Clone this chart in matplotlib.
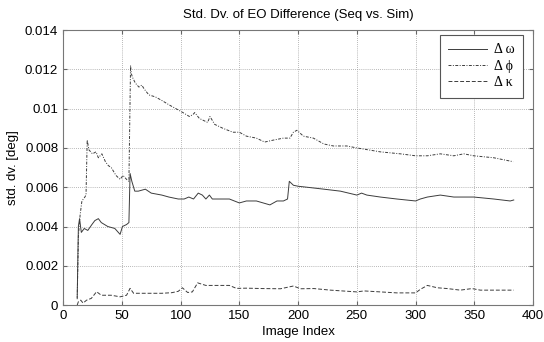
import numpy as np
import matplotlib.pyplot as plt

# Delta omega (solid)
omega_x = [12, 13, 14, 15.5, 18, 21, 24.5, 27, 30, 32.5, 38, 44, 48.5, 50.5, 54, 56, 57, 58.5,
           61, 64, 70, 75, 84, 90, 98, 103, 107, 111, 115, 118.5, 121.5, 124.5, 127, 136, 141.5,
           150, 156, 164.5, 176, 182, 187.5, 191, 192.5, 196, 200, 207.5, 222, 236, 250, 254,
           258.5, 270, 284, 300, 304, 310, 321, 332.5, 349.5, 366.5, 380.5, 383.5]
omega_y = [0.0004, 0.0040, 0.0044, 0.0037, 0.0039, 0.0038, 0.0041, 0.0043, 0.0044, 0.0042,
           0.0040, 0.0039, 0.0036, 0.0040, 0.0041, 0.0042, 0.0067, 0.0063, 0.0058, 0.0058,
           0.0059, 0.0057, 0.0056, 0.0055, 0.0054, 0.0054, 0.0055, 0.0054, 0.0057, 0.0056,
           0.0054, 0.0056, 0.0054, 0.0054, 0.0054, 0.0052, 0.0053, 0.0053, 0.0051, 0.0053,
           0.0053, 0.0054, 0.0063, 0.0061, 0.00605, 0.0060, 0.0059, 0.0058, 0.0056, 0.0057,
           0.0056, 0.0055, 0.0054, 0.0053, 0.0054, 0.0055, 0.0056, 0.0055, 0.0055, 0.0054,
           0.0053, 0.00535]

# Delta phi (dash-dot)
phi_x = [12, 13, 14.5, 16, 18.5, 19.5, 20.5, 22, 25, 28, 30, 33, 36, 38.5, 41, 45, 48.5, 51,
         54, 56, 57.4, 58, 59, 61.5, 64.5, 67, 69, 73, 78.5, 84.5, 90, 96, 102, 107.5, 110.5,
         112, 116, 123, 125, 129, 136, 144.5, 150, 156, 164.5, 171.5, 179, 187.5, 193, 196,
         199, 204.5, 213, 222, 230, 241.5, 250, 270, 287, 300, 310, 321, 332.5, 341, 349.5,
         366.5, 383]
phi_y = [0.0003, 0.0035, 0.0046, 0.0053, 0.0055, 0.0056, 0.0084, 0.0079, 0.0077, 0.0078,
         0.0075, 0.0077, 0.0073, 0.0071, 0.0070, 0.0066, 0.0064, 0.0066, 0.0064, 0.0063,
         0.0122, 0.0118, 0.0116, 0.0113, 0.0111, 0.0112, 0.0110, 0.0107, 0.0106, 0.0104,
         0.0102, 0.0100, 0.0098, 0.0096, 0.0097, 0.0098, 0.0095, 0.0093, 0.0096, 0.0092,
         0.0090, 0.0088, 0.0088, 0.0086, 0.0085, 0.0083, 0.0084, 0.0085, 0.0085, 0.0088,
         0.0089, 0.0086, 0.0085, 0.0082, 0.0081, 0.0081, 0.0080, 0.0078, 0.0077, 0.0076,
         0.0076, 0.0077, 0.0076, 0.0077, 0.0076, 0.0075, 0.0073]

# Delta kappa (dashed)
kappa_x = [12, 13, 15, 17, 20, 24, 28.5, 32.5, 41, 48.5, 54, 57, 60, 70, 84, 92.5, 98, 101.5,
           106, 110, 114.5, 121.5, 130, 141.5, 147.5, 156, 170, 185, 196, 202, 213.5, 227.5,
           250, 256, 270, 284, 300, 304, 310, 318.5, 327, 338, 348, 355, 369, 383.5]
kappa_y = [0.0000, 0.00017, 0.00025, 0.0001, 0.00025, 0.00034, 0.00068, 0.0005, 0.0005,
           0.00042, 0.0005, 0.00085, 0.0006, 0.0006, 0.0006, 0.00063, 0.0007, 0.00088,
           0.00064, 0.00067, 0.00113, 0.0010, 0.0010, 0.0010, 0.00085, 0.00086, 0.00084,
           0.00083, 0.00097, 0.00083, 0.00084, 0.00076, 0.00067, 0.00072, 0.00067, 0.00062,
           0.00062, 0.0008, 0.0010, 0.00088, 0.00084, 0.00076, 0.00084, 0.00076, 0.00076,
           0.00076]

x_ticks = [0, 50, 100, 150, 200, 250, 300, 350, 400]
y_ticks = [0, 0.002, 0.004, 0.006, 0.008, 0.01, 0.012, 0.014]
y_tick_labels = ['0', '0.002', '0.004', '0.006', '0.008', '0.01', '0.012', '0.014']
legend_labels = ['Δ ω', 'Δ ϕ', 'Δ κ']

plt.rcParams['font.family'] = ['Liberation Sans', 'DejaVu Sans']

fig = plt.figure(figsize=(5.44, 3.42), dpi=100)
ax = fig.add_axes([0.116, 0.108, 0.864, 0.804])

line_color = '#3c3c3c'
ax.plot(omega_x, omega_y, '-', color=line_color, lw=0.7, label=legend_labels[0])
ax.plot(phi_x, phi_y, color=line_color, lw=0.7, linestyle=(0, (3, 1.5, 1, 1.5)),
        label=legend_labels[1])
ax.plot(kappa_x, kappa_y, color=line_color, lw=0.7, linestyle=(0, (4, 2)),
        label=legend_labels[2])

ax.set_xlim(0, 400)
ax.set_ylim(0, 0.014)
ax.set_xticks(x_ticks)
ax.set_yticks(y_ticks)
ax.set_yticklabels(y_tick_labels)
ax.tick_params(direction='in', top=True, right=True, labelsize=9.5, length=3,
               color='#666666', pad=3.5)
ax.grid(True, linestyle=(0, (1, 1.5)), color='#a0a0a0', lw=0.6)
for s in ax.spines.values():
    s.set_color('#777777')
    s.set_linewidth(0.8)

ax.set_title('Std. Dv. of EO Difference (Seq vs. Sim)', fontsize=9.5, pad=9)
ax.set_xlabel('Image Index', fontsize=9.5, labelpad=3)
ax.set_ylabel('std. dv. [deg]', fontsize=9.5, labelpad=4)

leg = ax.legend(loc='upper right', bbox_to_anchor=(0.979, 0.982), borderaxespad=0,
                prop={'family': ['Liberation Serif', 'DejaVu Serif'], 'size': 10},
                handlelength=2.8, handletextpad=0.5, fancybox=False, framealpha=1,
                borderpad=0.6, labelspacing=0.25, edgecolor='#555555')
leg.get_frame().set_linewidth(0.8)

fig.savefig('out.png', dpi=100)
